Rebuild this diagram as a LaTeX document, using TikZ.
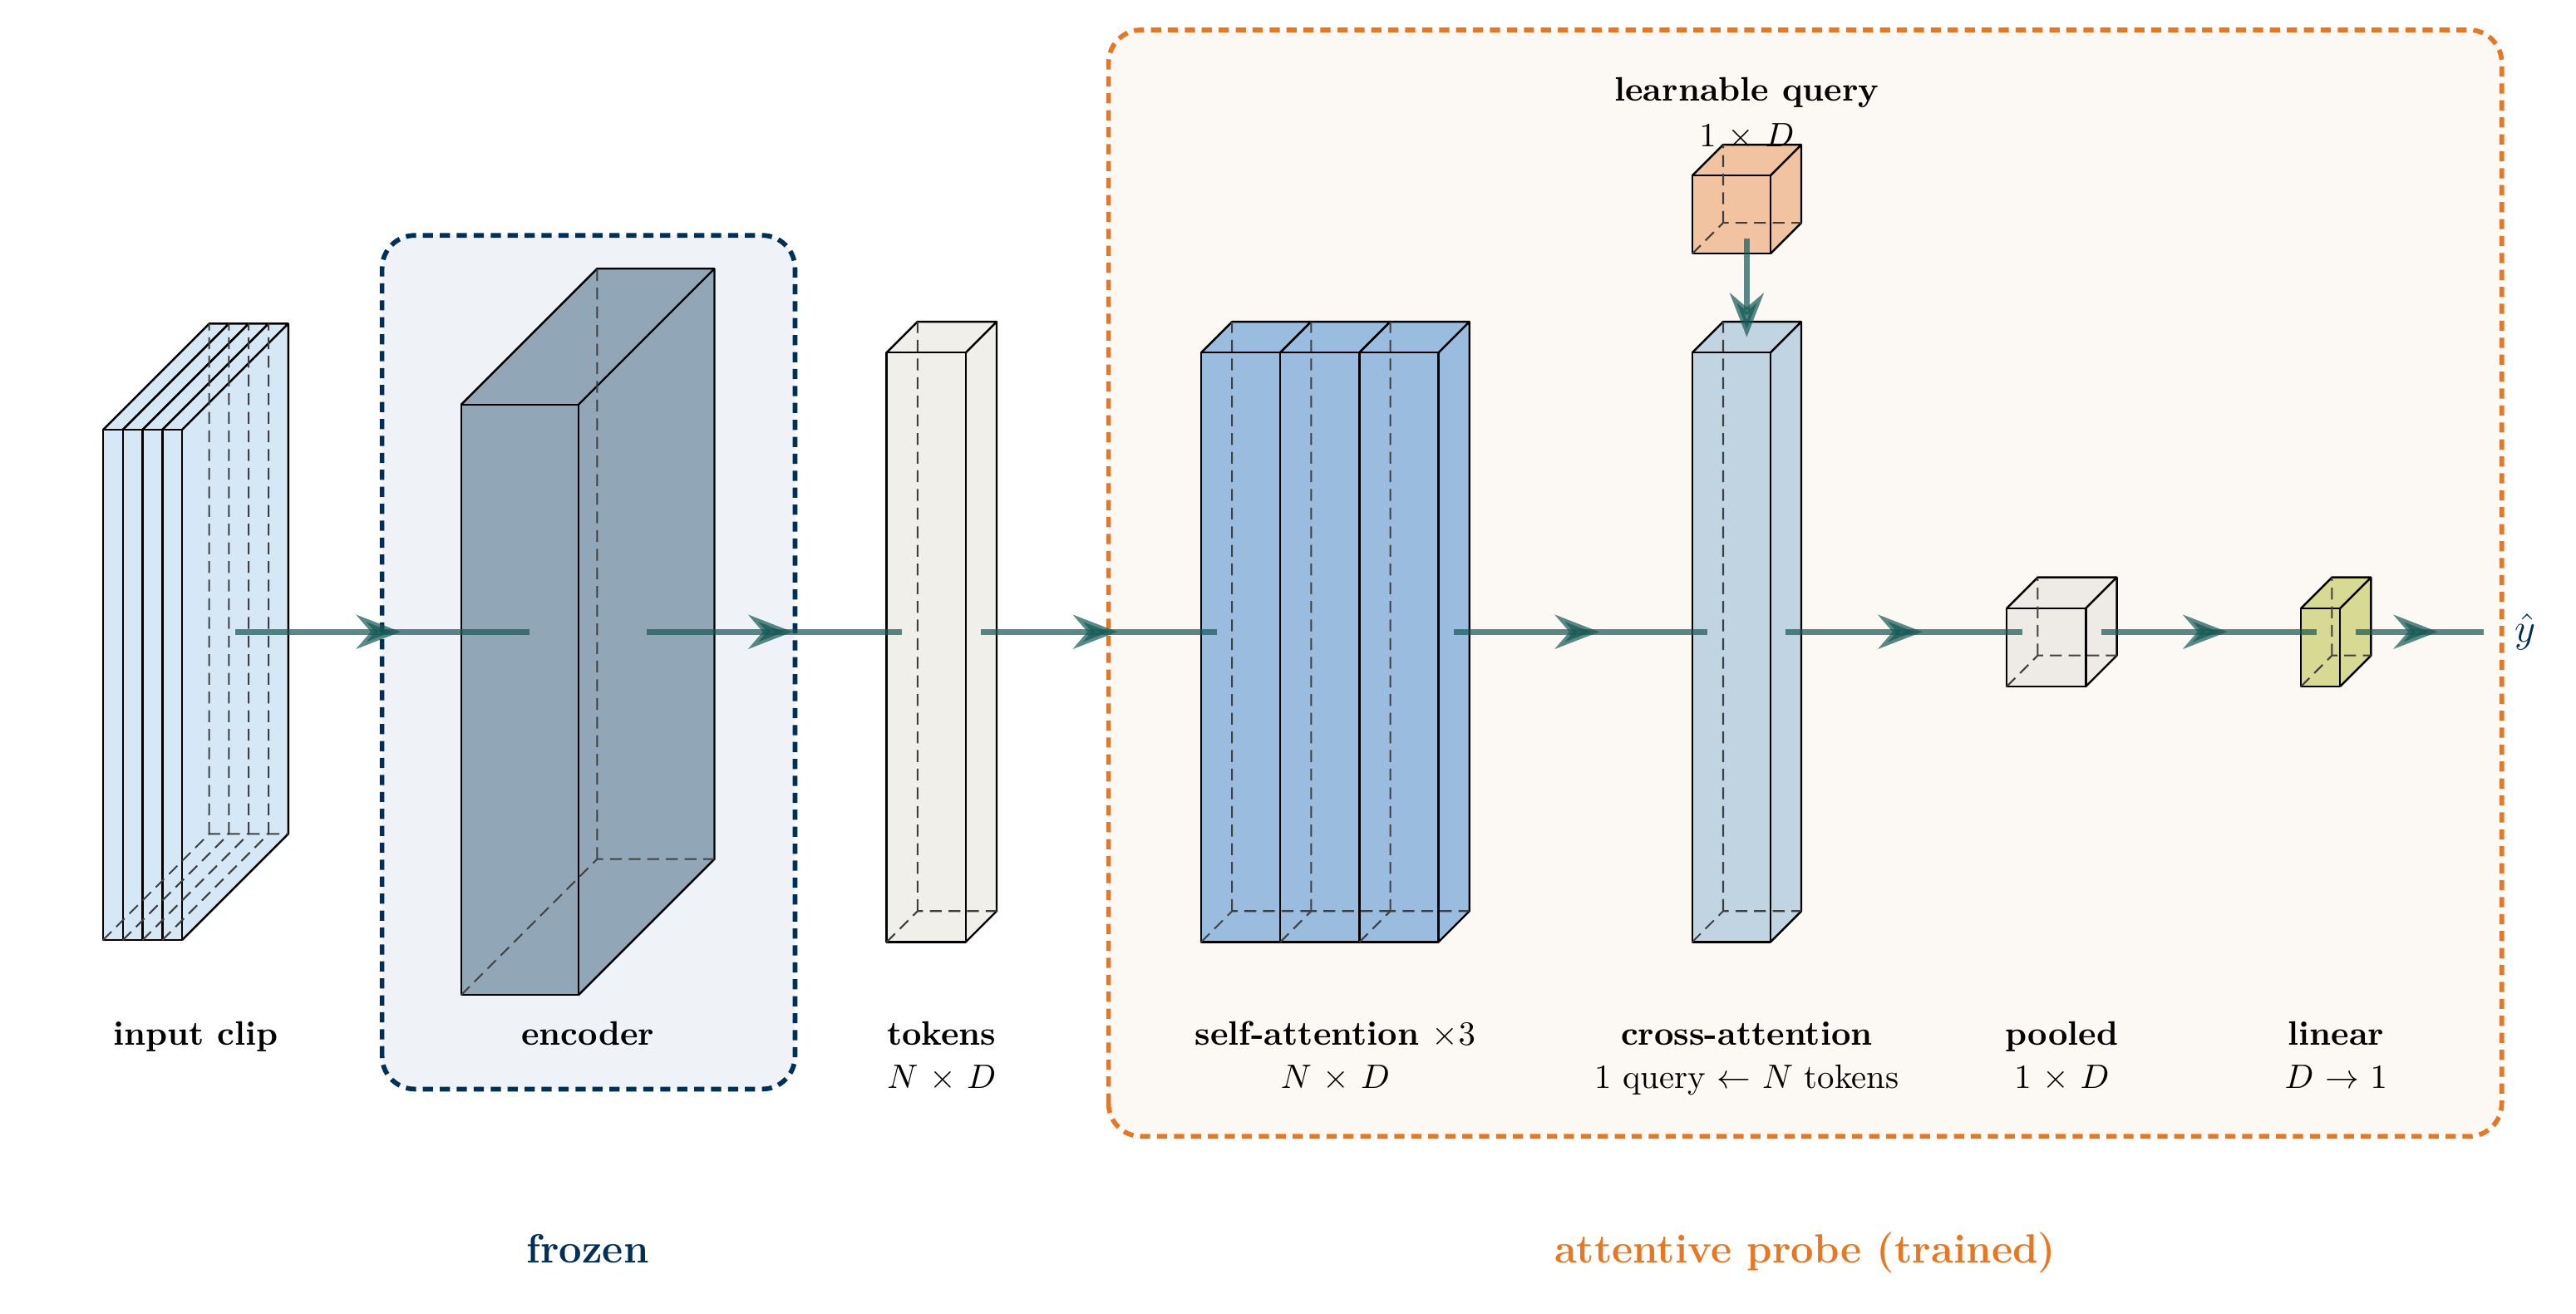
\documentclass[tikz,border=0pt]{standalone}
\usepackage{xcolor}
\usepackage{tikz}
\usetikzlibrary{arrows.meta, positioning, calc, decorations.markings}
\pgfdeclarelayer{groups}
\pgfdeclarelayer{faces}
\pgfsetlayers{groups,faces,main}
\definecolor{navyblue}{RGB}{0,48,87}
\definecolor{probeorange}{RGB}{232,119,34}
\definecolor{frozenbg}{RGB}{239,243,247}
\definecolor{probebg}{RGB}{252,248,244}
\definecolor{flowteal}{RGB}{20,88,85}
\definecolor{clipblue}{RGB}{214,231,245}
\definecolor{encslate}{RGB}{145,167,184}
\definecolor{tokgrey}{RGB}{240,239,234}
\definecolor{attnblue}{RGB}{153,188,223}
\definecolor{crossblue}{RGB}{192,212,225}
\definecolor{querypeach}{RGB}{242,195,160}
\definecolor{poolgrey}{RGB}{238,235,230}
\definecolor{linolive}{RGB}{216,217,146}

\begin{document}
\begin{tikzpicture}[
      boxedge/.style={line width=0.6pt, black, line join=round},
      hiddenedge/.style={line width=0.5pt, black!75, dash pattern=on 3.5pt off 2pt},
      pics/cuboid/.style n args={4}{code={
        \coordinate (-fl) at (0,{-(#2+#3)/2});
        \begin{pgfonlayer}{faces}
          \fill[#4] (-fl) -- ++(#1,0) -- ++(#3,#3) -- ++(0,#2) -- ++(-#1,0) -- ++(-#3,-#3) -- cycle;
          \draw[boxedge] (-fl) rectangle ++(#1,#2);
          \draw[boxedge] (-fl) ++(#1,0) -- ++(#3,#3) -- ++(0,#2) -- ++(-#1,0) -- ++(-#3,-#3) ++(#1,0) -- ++(#3,#3);
        \end{pgfonlayer}
        \draw[hiddenedge] (-fl) -- ++(#3,#3) -- ++(#1,0) ++(-#1,0) -- ++(0,#2);
        \coordinate (-west) at ({#3/2},0);
        \coordinate (-east) at ({#1+#3/2},0);
        \coordinate (-center) at ({(#1+#3)/2},0);
        \coordinate (-north) at ({(#1+#3)/2},{#2/2});
        \coordinate (-south) at ({(#1+#3)/2},{-#2/2});
      }},
      conn/.style={line width=1.8pt, draw=flowteal, opacity=0.7, postaction={decorate},
        decoration={markings, mark=at position 0.5 with {\pgftransformxshift{0.19cm}\arrow{Stealth[length=13pt, width=10pt]}}}},
      qarrow/.style={-{Stealth[length=13pt, width=10pt]}, line width=1.8pt, draw=flowteal, opacity=0.7},
      frozenbox/.style={draw=navyblue, fill=frozenbg, line width=1.4pt, dash pattern=on 3pt off 2pt, rounded corners=0.34cm},
      probebox/.style={draw=probeorange, fill=probebg, line width=1.4pt, dash pattern=on 3pt off 2pt, rounded corners=0.34cm},
      lbl/.style={font=\bfseries, anchor=base},
      sublbl/.style={anchor=base},
      grouplbl/.style={font=\large\bfseries, anchor=base}
    ]
      \useasboundingbox (0,-7.07) rectangle (26.70,6.55);

      % Groups
      \begin{pgfonlayer}{groups}
        \draw[frozenbox] (3.96,-4.74) rectangle (8.24,4.11);
        \draw[probebox] (11.49,-5.23) rectangle (25.93,6.24);
      \end{pgfonlayer}

      % Blocks
      \pic (clip1) at (1.068,0) {cuboid={0.205}{5.29}{1.10}{clipblue}};
      \pic (clip2) at (1.273,0) {cuboid={0.205}{5.29}{1.10}{clipblue}};
      \pic (clip3) at (1.478,0) {cuboid={0.205}{5.29}{1.10}{clipblue}};
      \pic (clip4) at (1.683,0) {cuboid={0.205}{5.29}{1.10}{clipblue}};
      \pic (enc) at (4.78,0) {cuboid={1.215}{6.12}{1.41}{encslate}};
      \pic (tok) at (9.19,0) {cuboid={0.82}{6.11}{0.32}{tokgrey}};
      \pic (sa1) at (12.45,0) {cuboid={0.82}{6.11}{0.32}{attnblue}};
      \pic (sa2) at (13.27,0) {cuboid={0.82}{6.11}{0.32}{attnblue}};
      \pic (sa3) at (14.09,0) {cuboid={0.82}{6.11}{0.32}{attnblue}};
      \pic (cross) at (17.54,0) {cuboid={0.81}{6.11}{0.32}{crossblue}};
      \pic (query) at (17.54,4.485) {cuboid={0.81}{0.81}{0.32}{querypeach}};
      \pic (pool) at (20.80,0) {cuboid={0.82}{0.81}{0.32}{poolgrey}};
      \pic (lin) at (23.85,0) {cuboid={0.405}{0.81}{0.32}{linolive}};
      \coordinate (out) at (25.74,0);

      % Arrows
      \draw[conn] (clip4-east) -- (enc-west);
      \draw[conn] (enc-east) -- (tok-west);
      \draw[conn] (tok-east) -- (sa1-west);
      \draw[conn] (sa3-east) -- (cross-west);
      \draw[conn] (cross-east) -- (pool-west);
      \draw[conn] (pool-east) -- (lin-west);
      \draw[conn] (lin-east) -- (out);
      \draw[qarrow] (query-south) -- (cross-north);
      \node[right=0.2cm of out, text=navyblue, font=\large] (yhat) {$\hat{y}$};

      % Labels
      \coordinate (row) at (0,-4.28);
      \coordinate (clipmid) at ($(clip1-center)!0.5!(clip4-center)$);
      \coordinate (samid) at ($(sa1-center)!0.5!(sa3-center)$);
      \node[lbl] (cliplbl) at (clipmid |- row) {input clip};
      \node[lbl] (enclbl) at (enc-center |- row) {encoder};
      \node[lbl] (toklbl) at (tok-center |- row) {tokens};
      \node[sublbl, below=0.45cm of toklbl.base, anchor=base] (toksub) {$N$ $\times$ $D$};
      \node[lbl] (salbl) at (samid |- row) {self-attention $\times 3$};
      \node[sublbl, below=0.45cm of salbl.base, anchor=base] (sasub) {$N$ $\times$ $D$};
      \node[lbl] (crosslbl) at (cross-center |- row) {cross-attention};
      \node[sublbl, below=0.45cm of crosslbl.base, anchor=base] (crosssub) {1 query $\leftarrow$ $N$ tokens};
      \node[lbl] (poollbl) at (pool-center |- row) {pooled};
      \node[sublbl, below=0.45cm of poollbl.base, anchor=base] (poolsub) {$1$ $\times$ $D$};
      \node[lbl] (linlbl) at (lin-center |- row) {linear};
      \node[sublbl, below=0.45cm of linlbl.base, anchor=base] (linsub) {$D$ $\rightarrow$ $1$};
      \node[sublbl, above=0.14cm of query-north, anchor=base] (qdim) {$1$ $\times$ $D$};
      \node[lbl, above=0.47cm of qdim.base, anchor=base] (querylbl) {learnable query};

      % Group labels
      \node[grouplbl, text=navyblue] (frozenlbl) at (enc-center |- 0,-6.54) {frozen};
      \node[grouplbl, text=probeorange] (probelbl) at (18.71,-6.54) {attentive probe (trained)};

    \end{tikzpicture}
\end{document}
